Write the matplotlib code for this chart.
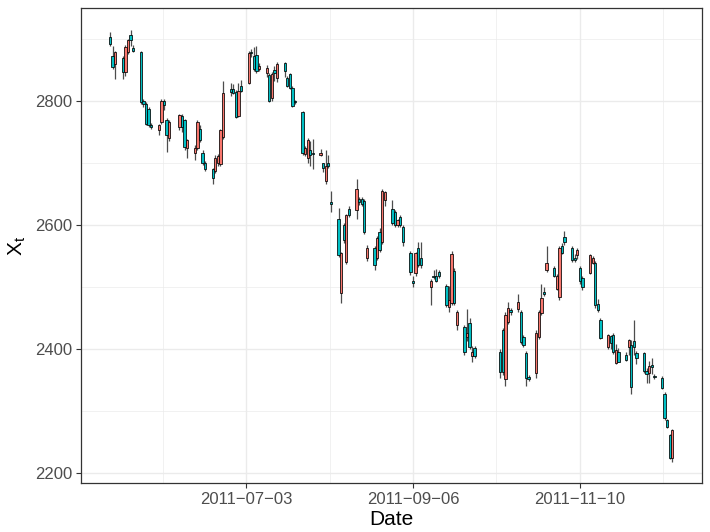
import numpy as np
import pandas as pd
import matplotlib
matplotlib.use("Agg")
import matplotlib.pyplot as plt
import matplotlib.dates as mdates

plt.rcParams['font.family'] = ['Liberation Sans', 'DejaVu Sans']
plt.rcParams['mathtext.fontset'] = 'custom'
plt.rcParams['mathtext.rm'] = 'Liberation Sans'
plt.rcParams['mathtext.it'] = 'Liberation Sans'

# ---- trading days (2011) ----
may_days = [11, 12, 13, 16, 17, 18, 19, 20, 23, 24, 25, 26, 27, 30, 31]
jun_days = [1, 2, 3, 7, 8, 9, 10, 13, 14, 15, 16, 17, 20, 21, 22, 23, 24, 27, 28, 29, 30]
jul_days = [1, 4, 5, 6, 7, 8, 11, 12, 13, 14, 15, 18, 19, 20, 21, 22, 25, 26, 27, 28, 29]
aug_days = [1, 2, 3, 4, 5, 8, 9, 10, 11, 12, 15, 16, 17, 18, 19, 22, 23, 24, 25, 26, 29, 30, 31]
sep_days = [1, 2, 5, 6, 7, 8, 9, 13, 14, 15, 16, 19, 20, 21, 22, 23, 26, 27, 28, 29, 30]
oct_days = [10, 11, 12, 13, 14, 17, 18, 19, 20, 21, 24, 25, 26, 27, 28, 31]
nov_days = [1, 2, 3, 4, 7, 8, 9, 10, 11, 14, 15, 16, 17, 18, 21, 22, 23, 24, 25, 28, 29, 30]
dec_days = [1, 2, 5, 6, 7, 8, 9, 12, 13, 14, 15, 16]

opens = [
    # May
    2903, 2872, 2859, 2869, 2846, 2878, 2905, 2885, 2878, 2800, 2795, 2787, 2761, 2753, 2765,
    # Jun
    2800, 2768, 2739, 2757, 2776, 2768, 2724, 2715, 2723, 2755, 2716, 2700, 2689, 2687, 2700,
    2698, 2741, 2818, 2819, 2814, 2775,
    # Jul
    2824, 2829, 2879, 2872, 2874, 2851, 2845, 2842, 2804, 2850, 2837, 2860, 2837, 2843, 2821,
    2799, 2782, 2714, 2708, 2720, 2716,
    # Aug
    2712, 2699, 2671, 2700, 2636, 2610, 2490, 2600, 2540, 2626, 2623, 2642, 2641, 2639, 2547,
    2563, 2546, 2588, 2572, 2640, 2626, 2620, 2599,
    # Sep
    2612, 2596, 2554, 2510, 2522, 2563, 2547, 2499, 2518, 2518, 2524, 2502, 2467, 2473, 2526,
    2438, 2435, 2419, 2441, 2388, 2401,
    # Oct
    2395, 2430, 2352, 2443, 2462, 2464, 2459, 2419, 2393, 2354, 2361, 2419, 2457, 2491, 2527, 2531,
    # Nov
    2497, 2483, 2566, 2580, 2562, 2547, 2551, 2531, 2514, 2522, 2539, 2539, 2472, 2446, 2403,
    2420, 2423, 2377, 2395, 2390, 2403, 2406,
    # Dec
    2412, 2393, 2393, 2364, 2361, 2374, 2356, 2353, 2327, 2285, 2261, 2224,
]
closes = [
    2891, 2854, 2878, 2846, 2886, 2897, 2897, 2880, 2797, 2795, 2763, 2760, 2757, 2761, 2800,
    2793, 2744, 2765, 2777, 2758, 2725, 2736, 2724, 2765, 2736, 2700, 2690, 2676, 2708, 2711,
    2752, 2813, 2814, 2813, 2774, 2815,
    2816, 2877, 2876, 2851, 2848, 2856, 2853, 2800, 2843, 2845, 2859, 2848, 2824, 2821, 2792,
    2797, 2716, 2724, 2737, 2712, 2714,
    2716, 2692, 2695, 2695, 2633, 2551, 2554, 2575, 2615, 2615, 2658, 2636, 2634, 2588, 2563,
    2535, 2578, 2559, 2655, 2653, 2602, 2599, 2607,
    2599, 2572, 2523, 2506, 2554, 2535, 2535, 2510, 2515, 2510, 2517, 2470, 2478, 2552, 2473,
    2459, 2395, 2425, 2403, 2395, 2388,
    2362, 2362, 2454, 2465, 2459, 2476, 2411, 2406, 2353, 2351, 2426, 2459, 2482, 2489, 2539, 2518,
    2518, 2562, 2555, 2572, 2543, 2543, 2559, 2510, 2499, 2551, 2547, 2470, 2462, 2418, 2422,
    2410, 2395, 2398, 2379, 2382, 2414, 2338,
    2403, 2385, 2364, 2359, 2372, 2370, 2354, 2337, 2288, 2274, 2224, 2269,
]
highs = [
    2910, 2888, 2880, 2872, 2890, 2900, 2914, 2890, 2880, 2803, 2798, 2790, 2764, 2763, 2803,
    2803, 2772, 2768, 2779, 2778, 2771, 2738, 2728, 2768, 2760, 2720, 2702, 2692, 2712, 2714,
    2755, 2832, 2828, 2826, 2817, 2828,
    2833, 2880, 2884, 2886, 2888, 2860, 2858, 2845, 2846, 2855, 2862, 2862, 2840, 2845, 2823,
    2801, 2784, 2727, 2740, 2735, 2738,
    2722, 2700, 2720, 2712, 2655, 2627, 2556, 2603, 2618, 2630, 2674, 2645, 2644, 2641, 2567,
    2565, 2581, 2595, 2657, 2655, 2640, 2623, 2610,
    2615, 2600, 2557, 2517, 2556, 2572, 2572, 2512, 2527, 2528, 2527, 2505, 2502, 2558, 2530,
    2463, 2438, 2464, 2449, 2405, 2404,
    2400, 2434, 2460, 2475, 2466, 2488, 2462, 2422, 2396, 2357, 2430, 2462, 2505, 2500, 2565, 2534,
    2521, 2565, 2570, 2590, 2565, 2552, 2562, 2534, 2517, 2553, 2550, 2542, 2480, 2449, 2424,
    2423, 2425, 2407, 2402, 2395, 2416, 2414,
    2446, 2396, 2395, 2369, 2380, 2385, 2360, 2356, 2330, 2287, 2263, 2271,
]
lows = [
    2888, 2851, 2835, 2835, 2840, 2875, 2888, 2878, 2795, 2790, 2760, 2757, 2755, 2745, 2762,
    2785, 2717, 2735, 2752, 2750, 2720, 2707, 2705, 2720, 2733, 2697, 2687, 2666, 2684, 2695,
    2694, 2738, 2808, 2810, 2772, 2773,
    2814, 2826, 2870, 2848, 2845, 2848, 2838, 2798, 2800, 2832, 2830, 2838, 2822, 2818, 2790,
    2795, 2713, 2710, 2700, 2695, 2690,
    2710, 2685, 2665, 2692, 2620, 2548, 2473, 2570, 2536, 2612, 2610, 2632, 2630, 2585, 2542,
    2527, 2543, 2556, 2569, 2630, 2599, 2596, 2596,
    2596, 2565, 2519, 2500, 2518, 2532, 2530, 2470, 2512, 2507, 2514, 2467, 2460, 2470, 2470,
    2430, 2390, 2412, 2400, 2378, 2385,
    2353, 2358, 2340, 2440, 2455, 2460, 2408, 2403, 2340, 2348, 2353, 2416, 2455, 2485, 2524, 2515,
    2494, 2478, 2552, 2568, 2540, 2540, 2545, 2505, 2495, 2520, 2536, 2466, 2459, 2415, 2400,
    2400, 2392, 2375, 2378, 2380, 2390, 2327,
    2390, 2375, 2361, 2345, 2345, 2360, 2352, 2335, 2285, 2272, 2222, 2218,
]

x_breaks = ['2011-07-03', '2011-09-06', '2011-11-10']
y_breaks = [2200, 2400, 2600, 2800]
x_title = 'Date'
y_title = r'$\mathrm{X_t}$'

# ---- assemble ----
months = [(5, may_days), (6, jun_days), (7, jul_days), (8, aug_days),
          (9, sep_days), (10, oct_days), (11, nov_days), (12, dec_days)]
dates = [pd.Timestamp(2011, m, d) for m, ds in months for d in ds]
assert len(dates) == len(opens) == len(closes) == len(highs) == len(lows), \
    (len(dates), len(opens), len(closes), len(highs), len(lows))

xd = mdates.date2num(pd.to_datetime(dates).to_pydatetime())
o = np.array(opens, float); c = np.array(closes, float)
h = np.array(highs, float); l = np.array(lows, float)

UP = '#F8766D'
DOWN = '#00BFC4'
cols = np.where(c > o, UP, DOWN)

W, H = 710, 532
fig = plt.figure(figsize=(W / 100, H / 100), dpi=100)
fig.patch.set_facecolor('white')
left, right, top, bottom = 80.7, 701.7, 8.3, 483.3
ax = fig.add_axes([left / W, 1 - bottom / H, (right - left) / W, (bottom - top) / H])

ax.vlines(xd, l, h, color='#4d4d4d', linewidth=0.9, zorder=2)
bw = 0.9
ax.bar(xd, c - o, bottom=o, width=bw, color=cols, edgecolor='black',
       linewidth=0.55, zorder=3, align='center')

# limits with ggplot-like 5% expansion
x0, x1 = xd.min() - bw / 2, xd.max() + bw / 2
px = 0.05 * (x1 - x0)
ax.set_xlim(x0 - px, x1 + px)
y0, y1 = l.min(), h.max()
py = 0.05 * (y1 - y0)
ax.set_ylim(y0 - py, y1 + py)

# ticks and grid
xb = mdates.date2num(pd.to_datetime(x_breaks).to_pydatetime())
ax.set_xticks(xb)
ax.set_xticklabels([s.replace('-', '\u2212') for s in x_breaks])
step = xb[1] - xb[0]
minor_x = [xb[0] - step / 2] + list((xb[:-1] + xb[1:]) / 2) + [xb[-1] + step / 2]
ax.set_xticks(minor_x, minor=True)
ax.set_yticks(y_breaks)
ax.set_yticks([2300, 2500, 2700, 2900], minor=True)

ax.set_axisbelow(True)
ax.grid(which='major', color='#EBEBEB', linewidth=1.0)
ax.grid(which='minor', color='#EBEBEB', linewidth=0.5)
ax.tick_params(which='major', length=3.6, width=0.8, color='#333333',
               labelsize=12, labelcolor='#4D4D4D', pad=2.5)
ax.tick_params(which='minor', length=0)

for s in ax.spines.values():
    s.set_color('#333333')
    s.set_linewidth(0.9)

ax.set_xlabel(x_title, fontsize=15, color='black', labelpad=2)
ax.set_ylabel(y_title, fontsize=15, color='black', labelpad=5)

fig.savefig('out.png', dpi=100, facecolor='white')
